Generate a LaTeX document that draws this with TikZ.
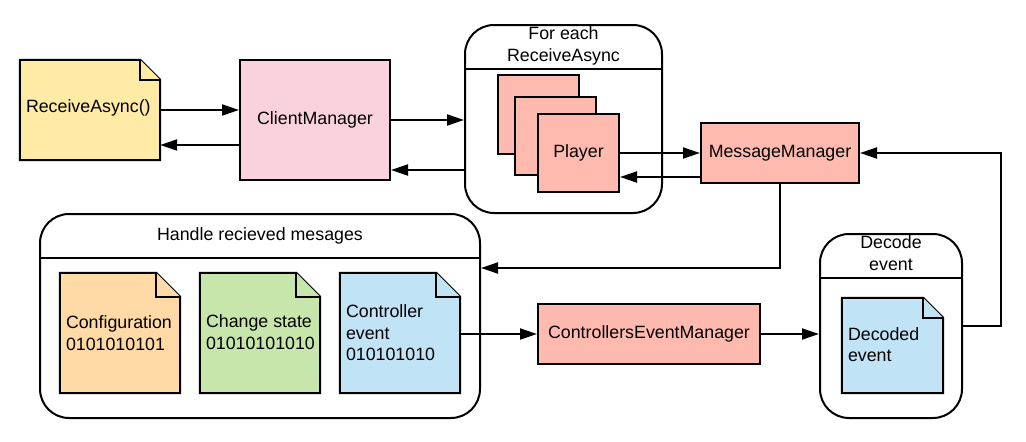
\documentclass[tikz,border=0pt]{standalone}
\usepackage{fontspec}
\setmainfont{Liberation Sans}
\usetikzlibrary{arrows.meta}
\definecolor{cyellow}{HTML}{FFEBA6}
\definecolor{cpink}{HTML}{F9D2DD}
\definecolor{csalmon}{HTML}{FFBAB0}
\definecolor{corange}{HTML}{FFD9A6}
\definecolor{cgreen}{HTML}{C6E6AB}
\definecolor{cblue}{HTML}{C0E3F6}
\newcommand\docoutline[3]{%
  \filldraw[line width=2pt, fill=#3, line join=miter]
    (#1.north west) -- ([xshift=-#2]#1.north east) -- ([yshift=-#2]#1.north east)
    -- (#1.south east) -- (#1.south west) -- cycle;
  \filldraw[line width=2pt, fill=#3, line join=miter]
    ([xshift=-#2]#1.north east) -- ([xshift=-#2,yshift=-#2]#1.north east)
    -- ([yshift=-#2]#1.north east);
}
\begin{document}
\begin{tikzpicture}[x=1pt,y=-1pt,
  every node/.style={font=\fontsize{17.8}{21.5}\selectfont},
  ln/.style={line width=2pt},
  box/.style={draw, line width=2pt, inner sep=0pt},
  doc/.style={inner sep=0pt},
  lbl/.style={inner sep=0pt, align=left, anchor=west},
  lane/.style={draw, line width=2pt, rounded corners=29pt, inner sep=0pt},
  ttl/.style={inner sep=0pt, align=center},
  arr/.style={line width=2pt, -{Triangle[length=17pt,width=11pt]}},
]
\useasboundingbox (0,0) rectangle (1026,442);

% ReceiveAsync document
\node[doc, minimum width=140pt, minimum height=100pt] (rcv) at (90,110) {};
\docoutline{rcv}{20pt}{cyellow}
\node[lbl] (rcvt) at ([xshift=6pt,yshift=2pt]rcv.west) {ReceiveAsync()};

% ClientManager
\node[box, fill=cpink, minimum width=150pt, minimum height=120pt] (cm) at (315,120) {ClientManager};

% For each lane
\node[lane, minimum width=197pt, minimum height=188pt] (fe) at (563.5,119) {};
\draw[ln] (fe.west |- 0,69) -- (fe.east |- 0,69);
\node[ttl] (fet) at (563.5,46) {For each\\ReceiveAsync};
\node[box, fill=csalmon, minimum width=81pt, minimum height=79pt] (p1) at (538.5,114.5) {};
\node[box, fill=csalmon, minimum width=81pt, minimum height=78pt] (p2) at (555.5,136) {};
\node[box, fill=csalmon, minimum width=81pt, minimum height=78pt] (p3) at (578.5,153) {Player};

% MessageManager
\node[box, fill=csalmon, minimum width=158pt, minimum height=60pt] (mm) at (780,153) {MessageManager};

% Handle lane
\node[lane, minimum width=440pt, minimum height=204pt] (hr) at (260,316) {};
\draw[ln] (hr.west |- 0,258) -- (hr.east |- 0,258);
\node[ttl] (hrt) at (260,236) {Handle recieved mesages};

\node[doc, minimum width=120pt, minimum height=120pt] (cfg) at (120,333) {};
\docoutline{cfg}{24pt}{corange}
\node[lbl] (cfgt) at ([xshift=6pt]cfg.west) {Configuration\\0101010101};

\node[doc, minimum width=120pt, minimum height=120pt] (chg) at (260,333) {};
\docoutline{chg}{24pt}{cgreen}
\node[lbl] (chgt) at ([xshift=6pt,yshift=1pt]chg.west) {Change state\\01010101010};

\node[doc, minimum width=120pt, minimum height=120pt] (ctl) at (400,333) {};
\docoutline{ctl}{24pt}{cblue}
\node[lbl] (ctlt) at ([xshift=6pt]ctl.west) {Controller\\event\\010101010};

% ControllersEventManager
\node[box, fill=csalmon, minimum width=222pt, minimum height=60pt] (cem) at (649,334) {ControllersEventManager};

% Decode lane
\node[lane, minimum width=142pt, minimum height=184pt] (dc) at (891,326) {};
\draw[ln] (dc.west |- 0,278) -- (dc.east |- 0,278);
\node[ttl] (dct) at (891,253) {Decode\\event};
\node[doc, minimum width=101pt, minimum height=95pt] (dev) at (892.5,345.5) {};
\docoutline{dev}{20pt}{cblue}
\node[lbl] (devt) at ([xshift=6pt,yshift=1pt]dev.west) {Decoded\\event};

% connectors
\draw[arr] (rcv.east |- 0,110) -- (cm.west |- 0,110);
\draw[arr] (cm.west |- 0,145) -- (rcv.east |- 0,145);
\draw[arr] (cm.east |- 0,120) -- (fe.west |- 0,120);
\draw[arr] (fe.west |- 0,170) -- (cm.east |- 0,170);
\draw[arr] (p3.east |- 0,153) -- (mm.west |- 0,153);
\draw[arr] (mm.west |- 0,177) -- (p3.east |- 0,177);
\draw[arr] (mm.south) |- (hr.east |- 0,268);
\draw[arr] (ctl.east |- 0,334) -- (cem.west |- 0,334);
\draw[arr] (cem.east |- 0,334) -- (dc.west |- 0,334);
\draw[arr] (dc.east) -- ++(38,0) |- (mm.east);
\end{tikzpicture}
\end{document}
